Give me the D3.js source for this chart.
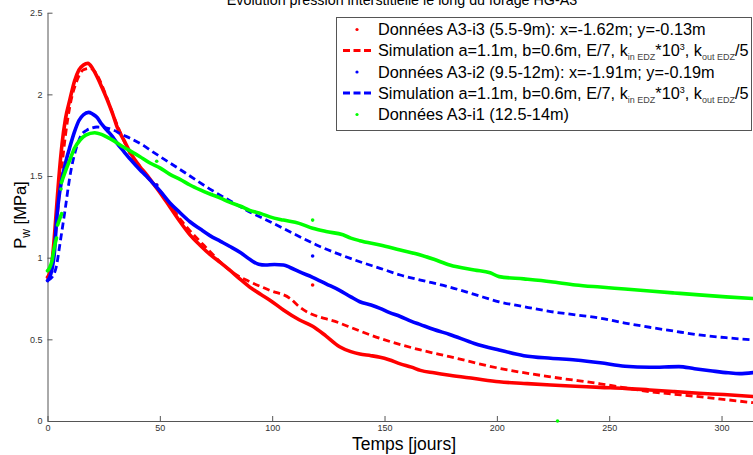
<!DOCTYPE html>
<html>
<head>
<meta charset="utf-8">
<script src="https://cdn.jsdelivr.net/npm/d3@7"></script>
<style>
  body { margin: 0; background: #fff; }
  text { font-family: "Liberation Sans", Arial, sans-serif; }
</style>
</head>
<body>
<script>
// Data (time in days, pressure in MPa)
const redTime = [0, 1, 2, 3, 4, 5, 6.5, 8, 10, 12, 14, 16, 18, 20, 22, 24, 26.5, 29, 31, 34, 37, 41, 44, 47, 50, 54.5, 59, 63.4, 68, 72.3, 77, 81, 86, 90, 95, 99, 105, 112, 118, 124, 130, 135, 139, 144, 148, 152, 157, 162, 166, 172, 179, 190, 201, 212, 224, 235, 246, 257, 268, 279, 290, 301, 314];
const redData = [0.88, 0.9, 0.97, 1.12, 1.3, 1.48, 1.7, 1.85, 1.97, 2.08, 2.15, 2.18, 2.19, 2.16, 2.11, 2.05, 1.97, 1.88, 1.8, 1.72, 1.64, 1.56, 1.51, 1.455, 1.4, 1.31, 1.22, 1.14, 1.075, 1.02, 0.97, 0.925, 0.865, 0.82, 0.775, 0.74, 0.68, 0.62, 0.58, 0.52, 0.455, 0.425, 0.41, 0.4, 0.39, 0.375, 0.35, 0.33, 0.31, 0.295, 0.28, 0.26, 0.24, 0.23, 0.22, 0.213, 0.206, 0.2, 0.19, 0.18, 0.17, 0.162, 0.15];

const redSimTime = [0, 2, 4, 6, 8, 10, 13, 16, 19, 22, 25, 28, 32, 37, 44, 50, 60, 70, 83, 90, 99, 108, 112, 130, 148, 166, 179, 201, 224, 246, 268, 290, 314];
const redSim = [0.88, 0.97, 1.2, 1.5, 1.75, 1.93, 2.08, 2.15, 2.16, 2.12, 2.03, 1.92, 1.78, 1.63, 1.5, 1.41, 1.22, 1.07, 0.904, 0.853, 0.8, 0.75, 0.7, 0.6, 0.506, 0.435, 0.394, 0.323, 0.27, 0.228, 0.18, 0.149, 0.112];

const blueTime = [0, 1, 2, 3, 4, 5, 6, 8, 10, 12, 14, 16, 18.3, 20, 22, 24, 26.5, 29, 31, 34, 37, 41, 44, 47, 50, 54.5, 59, 63.4, 68, 72.3, 77, 81, 86, 90, 94, 97, 101, 105, 108, 112, 118, 124, 130, 135, 139, 144, 148, 152, 157, 162, 166, 172, 179, 190, 201, 212, 224, 235, 246, 257, 268, 281, 288, 295, 303, 308, 314];
const blueData = [0.86, 0.88, 0.93, 1.02, 1.22, 1.36, 1.45, 1.58, 1.68, 1.77, 1.84, 1.875, 1.89, 1.88, 1.86, 1.82, 1.78, 1.74, 1.7, 1.65, 1.6, 1.54, 1.5, 1.455, 1.41, 1.335, 1.275, 1.22, 1.175, 1.135, 1.1, 1.07, 1.03, 0.99, 0.96, 0.955, 0.958, 0.955, 0.94, 0.914, 0.88, 0.84, 0.8, 0.76, 0.73, 0.71, 0.69, 0.665, 0.64, 0.61, 0.59, 0.56, 0.53, 0.475, 0.435, 0.4, 0.384, 0.374, 0.357, 0.335, 0.329, 0.333, 0.32, 0.308, 0.295, 0.29, 0.296];

const blueSimTime = [0, 2, 4, 5.6, 7.8, 10, 13, 15, 17.4, 20, 22, 26, 29.5, 33, 37, 43, 45.6, 54.5, 59, 63.4, 72.3, 81, 90, 99, 112, 121, 130, 139, 148, 157, 166, 179, 190, 201, 212, 224, 235, 246, 257, 268, 279, 290, 302, 314];
const blueSim = [0.86, 0.88, 0.95, 1.09, 1.29, 1.5, 1.68, 1.75, 1.78, 1.795, 1.8, 1.795, 1.78, 1.755, 1.73, 1.685, 1.66, 1.58, 1.54, 1.5, 1.42, 1.35, 1.28, 1.22, 1.13, 1.07, 1.02, 0.975, 0.935, 0.894, 0.863, 0.82, 0.775, 0.73, 0.7, 0.67, 0.65, 0.63, 0.6, 0.574, 0.55, 0.527, 0.51, 0.496];

// green record has gaps at the start (null = no data)
const greenTime = [0, 1, 2, 3, 4, 4.2, 4.5, 5.5, 6.3, 6.4, 6.2, 8, 10, 12, 14.5, 17, 21, 24, 26.3, 29, 32.3, 36, 41, 45.6, 50, 54.5, 59, 63.4, 68, 72.3, 77, 81, 86, 90, 95, 99, 105, 112, 118, 124, 131.5, 135, 139, 148, 157, 166, 172, 179, 190, 197, 201, 212, 224, 235, 246, 257, 268, 279, 290, 302, 314];
const greenData = [0.92, 0.94, 0.98, 1.06, 1.12, null, 1.2, 1.24, 1.27, null, 1.46, 1.53, 1.6, 1.67, 1.72, 1.75, 1.765, 1.755, 1.74, 1.72, 1.69, 1.66, 1.62, 1.58, 1.55, 1.51, 1.48, 1.445, 1.415, 1.39, 1.365, 1.34, 1.315, 1.29, 1.27, 1.25, 1.23, 1.21, 1.18, 1.16, 1.14, 1.12, 1.104, 1.078, 1.047, 1.017, 0.99, 0.955, 0.925, 0.908, 0.884, 0.87, 0.853, 0.833, 0.82, 0.808, 0.796, 0.784, 0.772, 0.76, 0.75];

// stray single samples
const redOutT = [48.6, 118];
const redOutV = [1.445, 0.833];
const blueOutT = [48.6, 118];
const blueOutV = [1.445, 1.01];
const greenOutT = [6, 48.6, 118, 227];
const greenOutV = [1.42, 1.59, 1.23, 0];

const xTicks = [0, 50, 100, 150, 200, 250, 300];
const yTicks = [0, 0.5, 1, 1.5, 2, 2.5];

const titleText = "Evolution pression interstitielle le long du forage HG-A3";
const legendLabels = [
  "Données A3-i3 (5.5-9m): x=-1.62m; y=-0.13m",
  "Simulation",
  "Données A3-i2 (9.5-12m): x=-1.91m; y=-0.19m",
  "Simulation",
  "Données A3-i1 (12.5-14m)"
];

const width = 753, height = 455;
const svg = d3.select("body").append("svg")
  .attr("width", width).attr("height", height);

const x = d3.scaleLinear().domain([0, 314]).range([47.5, 753]);
const y = d3.scaleLinear().domain([0, 2.5]).range([421, 12.7]);

// Title (cut off at top in the original)
svg.append("text")
  .attr("x", 402).attr("y", 4.5)
  .attr("text-anchor", "middle")
  .style("font-size", "14.3px")
  .text(titleText);

// Axes, MATLAB style: ticks point inward
const xAxis = d3.axisBottom(x).tickValues(xTicks)
  .tickSizeInner(-5).tickSizeOuter(0).tickPadding(4).tickFormat(d => d);
const yAxis = d3.axisLeft(y).tickValues(yTicks)
  .tickSizeInner(-5).tickSizeOuter(0).tickPadding(5).tickFormat(d => d);

const gx = svg.append("g").attr("transform", "translate(0,421)").call(xAxis);
const gy = svg.append("g").attr("transform", "translate(47.5,0)").call(yAxis);
[gx, gy].forEach(g => {
  g.select(".domain").attr("stroke", "#555");
  g.selectAll(".tick line").attr("stroke", "#555");
  g.selectAll(".tick text").attr("fill", "#333")
    .style("font-size", "9px").style("font-family", "'Liberation Sans', Arial, sans-serif");
});

// axis labels
svg.append("text")
  .attr("x", 404).attr("y", 450)
  .attr("text-anchor", "middle")
  .style("font-size", "17.5px")
  .text("Temps [jours]");

const yl = svg.append("text")
  .attr("transform", "translate(26,215) rotate(-90)")
  .attr("text-anchor", "middle")
  .style("font-size", "16.5px");
yl.append("tspan").text("P");
yl.append("tspan").attr("dy", 4).style("font-size", "12px").text("w");
yl.append("tspan").attr("dy", -4).text(" [MPa]");

const line = (ts, vs) => d3.line()
  .defined(d => d[1] !== null)
  .curve(d3.curveMonotoneX)
  .x(d => x(d[0])).y(d => y(d[1]))(ts.map((t, i) => [t, vs[i]]));

function dataLine(ts, vs, color) {
  svg.append("path").attr("d", line(ts, vs))
    .attr("fill", "none").attr("stroke", color)
    .attr("stroke-width", 3.6).attr("stroke-linejoin", "round").attr("stroke-linecap", "round");
}
function simLine(ts, vs, color) {
  svg.append("path").attr("d", line(ts, vs))
    .attr("fill", "none").attr("stroke", color)
    .attr("stroke-width", 2.8).attr("stroke-dasharray", "7,4");
}
function strays(ts, vs, color) {
  svg.append("g").selectAll("circle").data(ts.map((t, i) => [t, vs[i]])).join("circle")
    .attr("cx", d => x(d[0])).attr("cy", d => y(d[1])).attr("r", 1.8).attr("fill", color);
}

const RED = "#ff0000", BLUE = "#0000ff", GREEN = "#00ff00";
dataLine(redTime, redData, RED);
strays(redOutT, redOutV, RED);
simLine(redSimTime, redSim, RED);
dataLine(blueTime, blueData, BLUE);
strays(blueOutT, blueOutV, BLUE);
simLine(blueSimTime, blueSim, BLUE);
dataLine(greenTime, greenData, GREEN);
strays(greenOutT, greenOutV, GREEN);

// Legend
const lg = svg.append("g");
lg.append("rect").attr("x", 336.5).attr("y", 17.5).attr("width", 415).attr("height", 113)
  .attr("fill", "#fff").attr("stroke", "#555");
const legendColors = [RED, RED, BLUE, BLUE, GREEN];
const legendRows = [35, 56, 77.5, 98.5, 120];
legendLabels.forEach((lab, i) => {
  const by = legendRows[i];
  const isSim = lab === "Simulation";
  if (isSim) {
    lg.append("line").attr("x1", 343).attr("x2", 371).attr("y1", by - 5.5).attr("y2", by - 5.5)
      .attr("stroke", legendColors[i]).attr("stroke-width", 2.8).attr("stroke-dasharray", "7,3.5");
  } else {
    lg.append("circle").attr("cx", 357).attr("cy", by - 5.5).attr("r", 1.6).attr("fill", legendColors[i]);
  }
  const t = lg.append("text").attr("x", 378).attr("y", by).style("font-size", "16.3px");
  if (isSim) {
    t.append("tspan").text("Simulation a=1.1m, b=0.6m, E/7, k");
    t.append("tspan").attr("dy", 4).style("font-size", "9px").attr("fill", "#444").text("in EDZ");
    t.append("tspan").attr("dy", -4).text("*10");
    t.append("tspan").attr("dy", -6).style("font-size", "9px").text("3");
    t.append("tspan").attr("dy", 6).text(", k");
    t.append("tspan").attr("dy", 4).style("font-size", "9px").attr("fill", "#444").text("out EDZ");
    t.append("tspan").attr("dy", -4).text("/5");
  } else {
    t.text(lab);
  }
});
</script>
</body>
</html>
